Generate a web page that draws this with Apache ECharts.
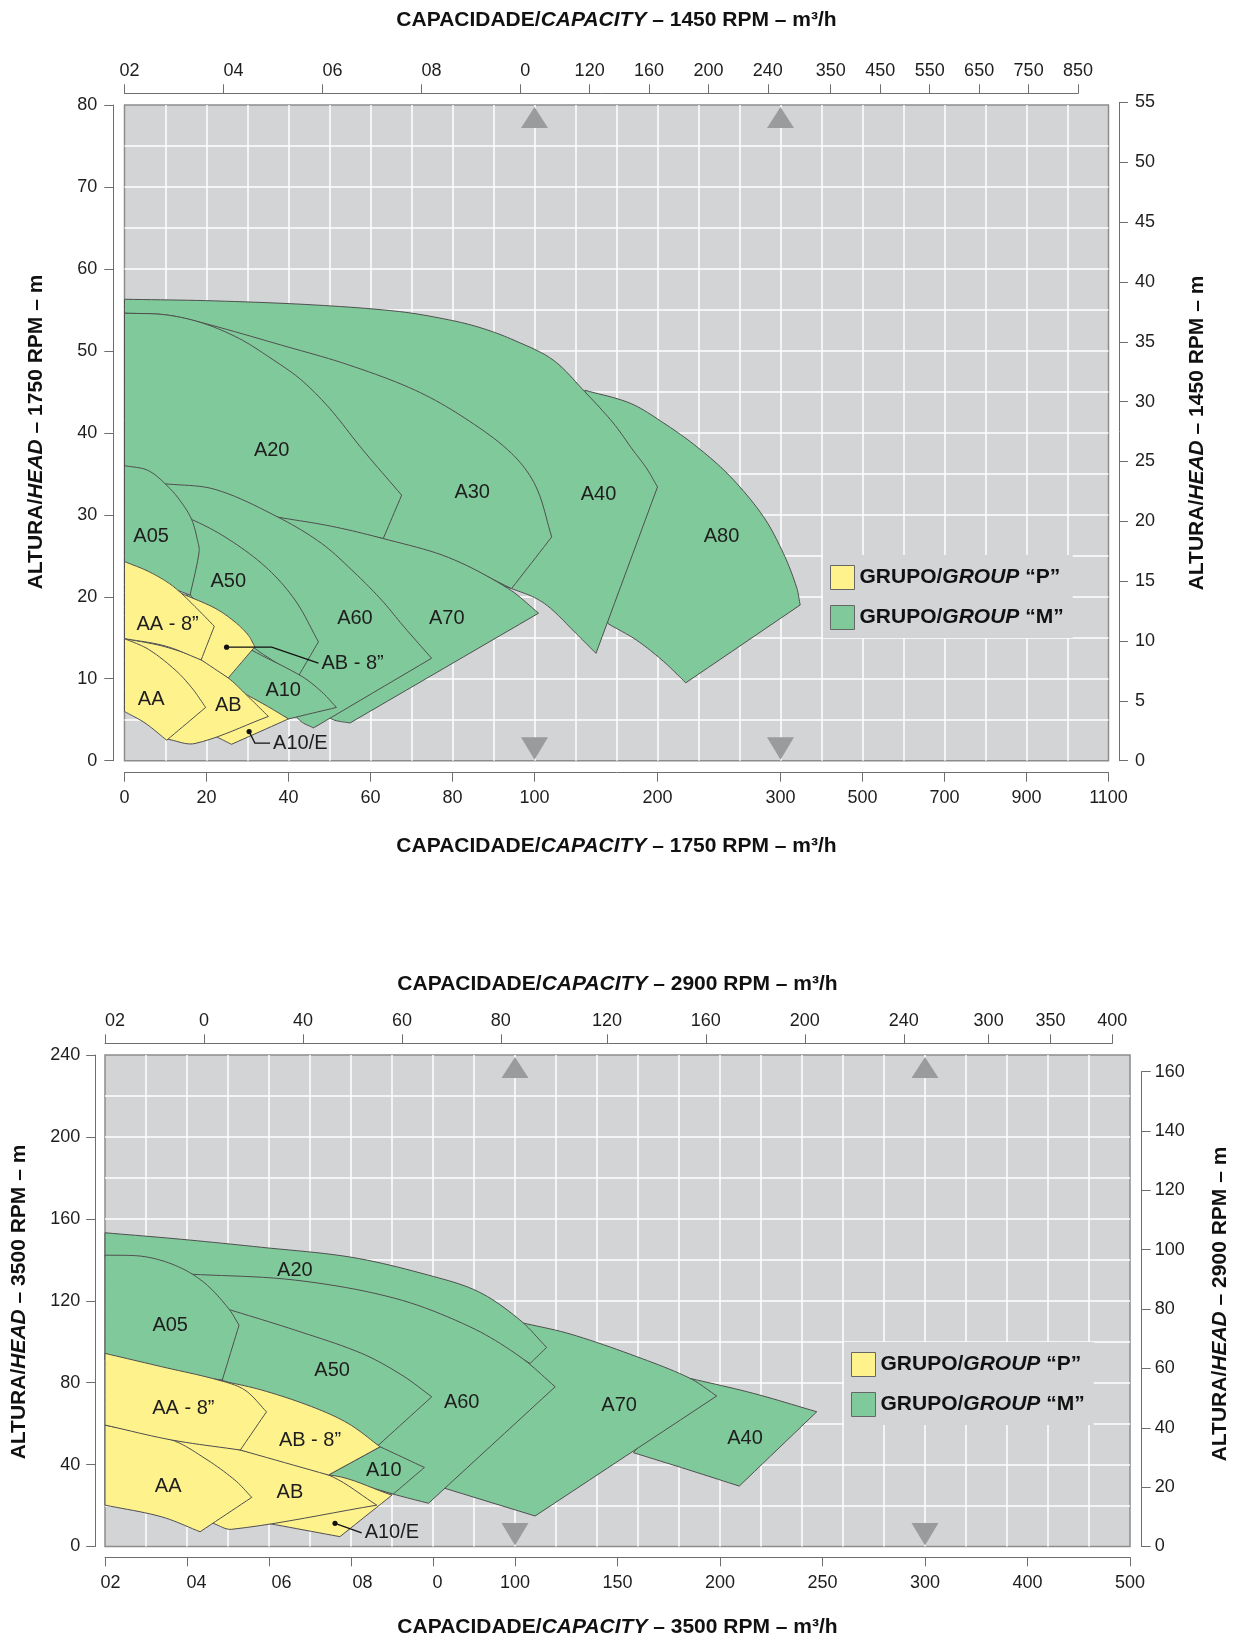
<!DOCTYPE html>
<html>
<head>
<meta charset="utf-8">
<script src="https://cdn.jsdelivr.net/npm/echarts@6/dist/echarts.min.js"></script>
<style>
  html, body { margin: 0; padding: 0; background: #fff; }
  #chart { width: 1239px; height: 1641px; }
</style>
</head>
<body>
<div id="chart"></div>
<script>
// ---------------- data: top chart, 1750 rpm (flow m3/h, head m) ----------------
const t_A80 = [[141,45.2],[178,43.6],[205,41.2],[232,38.3],[259,34.7],[286,29.8],[307,25.3],[339,21.2],[348,19.0],[223,9.5],[205,12.1],[183,14.7],[160,16.7],[140,25.0]];
const t_A40 = [[0,56.3],[22,56.1],[46.5,55.6],[67,54.8],[79,53.8],[87,52.8],[95,51.3],[115,48.9],[141,45.0],[164,41.2],[180,37.9],[191,35.7],[200,33.4],[150,13.1],[134,15.5],[113,18.6],[100,19.9],[94.4,21.0],[63,27.1],[30,45],[0,50]];
const t_A30 = [[0,54.6],[10,54.4],[19.2,53.4],[38.3,50.7],[54.6,48.3],[70.9,45.2],[83,41.8],[94.4,37.5],[101,33.5],[114,27.3],[94.4,21.0],[79,24.7],[63.1,27.1],[38.3,34.3],[0,46.5]];
const t_A20 = [[0,54.6],[10,54.4],[19,53.4],[28,51.5],[36,49.0],[43,46.5],[50,43.0],[58,38.0],[67.6,32.4],[63.1,27.1],[37.5,29.7],[9.5,33.8],[0,35.9]];
const t_A70 = [[37.5,29.7],[50.5,28.6],[63.1,27.1],[79,24.8],[93.6,21.0],[103.3,18.0],[55,4.6],[50.5,5.1],[43.2,7.8]];
const t_A60 = [[9.5,33.8],[22.1,33.1],[37.5,29.7],[48.1,26.5],[56.2,22.9],[62.7,19.6],[68.4,16.2],[74.9,12.5],[46.1,4.0],[42.8,4.9],[30.2,11.9],[15.6,20.0],[9.9,26.1]];
const t_A50 = [[15.6,29.6],[24.5,27.3],[34.3,23.7],[41.6,19.6],[47.3,14.5],[42.4,10.3],[31.8,13.7],[16.4,20.0],[13.9,24.1],[13.9,29.6]];
const t_A05 = [[0,36.0],[5.8,35.4],[10.7,33.4],[13.9,31.5],[16.4,29.4],[17.8,26.9],[18.2,25.5],[16.0,20.2],[9.9,21.4],[0,23.7]];
const t_A10 = [[30.2,13.9],[31.0,13.5],[43.2,10.3],[48.1,8.4],[51.7,6.5],[40.0,5.1],[27.8,8.2],[24.5,10.1]];
const t_A10E = [[22.1,7.4],[27.0,8.8],[34.3,6.8],[40.0,5.1],[26.1,2.0],[22.1,3.0]];
const t_AB = [[0,14.9],[9.9,13.9],[18.7,12.3],[25.3,10.1],[30.2,7.8],[35.1,5.4],[17.2,2.1],[10.7,2.6],[0,7.8]];
const t_AA = [[0,14.9],[5.8,13.6],[12.3,11.1],[16.4,8.9],[19.8,6.5],[10.3,2.5],[5.0,4.6],[0,6.0]];
const t_AB8 = [[13.9,20.4],[22.1,18.6],[27.0,16.9],[30.2,15.3],[31.8,13.9],[25.3,10.1],[18.7,12.3]];
const t_AA8 = [[0,24.3],[5.8,23.1],[10.7,21.7],[13.9,20.4],[18.0,18.4],[21.9,16.4],[18.7,12.3],[9.9,14.0],[0,14.9]];

const t_labels = [['A20',35.9,37.9],['A30',84.8,32.7],['A40',152,32.5],['A80',252,27.3],['A05',6.5,27.3],['A50',25.3,21.9],
                  ['A60',56.2,17.4],['A70',78.6,17.4],['AA - 8\u201d',10.5,16.6],['A10',38.7,8.6],['AA',6.5,7.5],['AB',25.3,6.7]];
const t_leadAB8 = [[24.9,13.85],[35.9,13.85],[47.3,11.9]];
const t_leadA10E = [[30.4,3.55],[31.8,2.15],[35.5,2.15]];

const ticks1750 = [0,20,40,60,80,100,200,300,500,700,900,1100];
const labels1750 = ['0','20','40','60','80','100','200','300','500','700','900','1100'];
const ticks1450 = [0,20,40,60,80,120,160,200,240,350,450,550,650,750,850];
const labels1450 = ['02','04','06','08','0','120','160','200','240','350','450','550','650','750','850'];

// ---------------- data: bottom chart, 3500 rpm ----------------
const b_A40 = [[185.4,82.1],[216.2,74.8],[247.2,65.8],[209.4,29.5],[183.8,37.7],[157.8,45.8]];
const b_A70 = [[103.2,109.3],[126.8,103.8],[159.4,92.7],[185.4,82.1],[198.4,73.5],[109.8,14.9],[82.9,28.4],[91.1,61.7]];
const b_A20 = [[0,153.2],[18.7,150.0],[38.2,146.1],[60.2,141.2],[78.9,132.5],[91.1,124.4],[102.4,110.6],[115.4,97.2],[107.4,89.4],[89.0,105.7],[46.3,128.5],[20.7,131.7],[0,141.5]];
const b_A60 = [[20.7,133.0],[46.3,130.1],[70.7,121.2],[89.0,107.3],[102.4,92.7],[119.6,78.0],[78.9,21.1],[70.3,25.6],[54.5,34.9],[32.5,47.1],[28.5,81.3],[22.0,126.8]];
const b_A50 = [[30.1,115.8],[46.3,105.7],[62.6,94.3],[72.4,83.7],[79.7,73.1],[66.7,49.5],[54.5,53.6],[32.5,78.0],[28.5,81.3]];
const b_A05 = [[0,142.3],[9.8,141.5],[17.9,136.6],[24.4,128.5],[30.1,116.3],[32.7,108.1],[28.6,81.3],[13.8,85.3],[0,91.0]];
const b_A10 = [[67.1,48.7],[77.9,38.6],[70.3,25.6],[54.5,34.9]];
const b_A10E = [[54.5,34.9],[70.0,25.1],[57.3,4.8],[39.8,11.3],[42.3,29.2]];
const b_AB = [[16.3,52.0],[33.0,47.1],[54.5,34.9],[66.3,20.2],[30.9,8.4],[26.4,11.3],[17.9,45.5]];
const b_AA = [[0,59.3],[16.3,52.0],[24.4,43.0],[31.7,32.4],[35.8,24.0],[23.2,7.2],[13.8,14.5],[0,20.2]];
const b_AB8 = [[27.6,81.3],[38.2,76.4],[50.4,68.3],[59.3,60.1],[67.1,48.7],[54.5,34.9],[33.0,47.1]];
const b_AA8 = [[0,94.3],[13.8,87.8],[27.6,81.3],[34.1,76.4],[39.4,65.8],[33.0,47.1],[16.3,52.0],[0,59.3]];

const b_labels = [['A20',46.3,134.7],['A05',15.9,108.1],['A50',55.4,85.8],['A60',87.0,70.2],['A70',150.8,69.1],['A40',212.2,52.8],
                  ['AA - 8\u201d',19.1,67.4],['AB - 8\u201d',50.0,52.0],['A10',68.0,37.3],['AA',15.4,29.2],['AB',45.1,26.3]];
const b_leadA10E = [[56.1,11.3],[62.6,6.7]];

const ticks3500 = [0,20,40,60,80,100,150,200,250,300,400,500];
const labels3500 = ['02','04','06','08','0','100','150','200','250','300','400','500'];
const ticks2900 = [0,20,40,60,80,120,160,200,240,300,350,400];
const labels2900 = ['02','0','40','60','80','120','160','200','240','300','350','400'];

const markFlows = [100, 300];

// ---------------- styling / layout ----------------
const FONT = '"Liberation Sans", Arial, Helvetica, sans-serif';
const GREEN = '#80c99a', YELLOW = '#fef28c', EDGE = '#4f4f4f';
const PLOT_BG = '#d3d4d6', AXIS = '#6e6e6e', TXT = '#1e1e1e', TRI = '#9a9b9d';
const nameP = 'GRUPO/GROUP \u201cP\u201d';
const nameM = 'GRUPO/GROUP \u201cM\u201d';
const PXU = 4.1; // px per axis unit, both charts

// piecewise flow scales
function ax1750(q) { return q <= 100 ? q : q <= 300 ? 100 + (q - 100) * 0.3 : 160 + (q - 300) * 0.1; }
function ax3500(q) { return q <= 100 ? q : q <= 300 ? 100 + (q - 100) * 0.5 : 200 + (q - 300) * 0.25; }
function ax1450(q) { return ax1750(q * 1750 / 1450); }
function ax2900(q) { return ax3500(q * 3500 / 2900); }

// label nudges in px (labels printed off their ticks in the original)
const nudge1450 = [5, 10, 10, 10, 5];
const nudge3500 = [5.5, 9.5, 12.4, 11.6, 4.6];
const nudge2900 = [10];

function nearestFmt(vals, texts) {
  return function (v) {
    let best = 0;
    for (let i = 1; i < vals.length; i++) if (Math.abs(vals[i] - v) < Math.abs(vals[best] - v)) best = i;
    return texts[best];
  };
}

function scaleAxis(gridIndex, pos, max, offset, ticks, texts, fn, nudge, margin) {
  const tv = ticks.map(fn);
  const lv = tv.map((v, i) => v + (nudge[i] || 0) / PXU);
  return {
    gridIndex: gridIndex, type: 'value', position: pos, min: 0, max: max, offset: offset,
    axisLine: {show: true, onZero: false, lineStyle: {color: AXIS, width: 1}},
    axisTick: {show: true, customValues: tv, length: 9, lineStyle: {color: AXIS, width: 1}},
    axisLabel: {show: true, customValues: lv, formatter: nearestFmt(lv, texts), margin: margin,
                fontSize: 18, color: TXT, fontFamily: FONT},
    splitLine: {show: false}
  };
}
function gridLines(gridIndex, max, interval) {
  return {
    gridIndex: gridIndex, type: 'value', min: 0, max: max, interval: interval,
    axisLine: {show: false, onZero: false}, axisTick: {show: false}, axisLabel: {show: false},
    splitLine: {show: true, showMinLine: false, showMaxLine: false, lineStyle: {color: '#ffffff', width: 1.5}}
  };
}
function yScale(gridIndex, pos, max, interval, offset, margin) {
  return {
    gridIndex: gridIndex, type: 'value', position: pos, min: 0, max: max, interval: interval, offset: offset,
    axisLine: {show: true, onZero: false, lineStyle: {color: AXIS, width: 1}},
    axisTick: {show: true, length: 9, lineStyle: {color: AXIS, width: 1}},
    axisLabel: {margin: margin, fontSize: 18, color: TXT, fontFamily: FONT},
    splitLine: {show: false}
  };
}
function hidden(gridIndex) {
  return {gridIndex: gridIndex, type: 'value', min: 0, max: 1, show: false,
          axisLine: {show: false, onZero: false}, axisTick: {show: false}, axisLabel: {show: false}, splitLine: {show: false}};
}

// smooth closed outline in pixel space; sharp turns stay corners
function smoothRing(pts) {
  const n = pts.length, out = [];
  const dir = (a, b) => { const dx = b[0] - a[0], dy = b[1] - a[1], l = Math.hypot(dx, dy) || 1; return [dx / l, dy / l]; };
  const dIn = [], dOut = [];
  for (let i = 0; i < n; i++) {
    const a = pts[(i - 1 + n) % n], p = pts[i], c = pts[(i + 1) % n];
    const u = dir(a, p), v = dir(p, c);
    const turn = Math.acos(Math.max(-1, Math.min(1, u[0] * v[0] + u[1] * v[1])));
    if (turn > 0.6) { dIn[i] = u; dOut[i] = v; }
    else { const m = dir(a, c); dIn[i] = m; dOut[i] = m; }
  }
  for (let i = 0; i < n; i++) {
    const j = (i + 1) % n, p0 = pts[i], p3 = pts[j];
    const L = Math.hypot(p3[0] - p0[0], p3[1] - p0[1]) / 3;
    const c1 = [p0[0] + dOut[i][0] * L, p0[1] + dOut[i][1] * L];
    const c2 = [p3[0] - dIn[j][0] * L, p3[1] - dIn[j][1] * L];
    const steps = 10;
    for (let k = 0; k < steps; k++) {
      const t = k / steps, s = 1 - t;
      out.push([
        s * s * s * p0[0] + 3 * s * s * t * c1[0] + 3 * s * t * t * c2[0] + t * t * t * p3[0],
        s * s * s * p0[1] + 3 * s * s * t * c1[1] + 3 * s * t * t * c2[1] + t * t * t * p3[1]
      ]);
    }
  }
  return out;
}

function polySeries(name, color, list, fn, xi, yi, z) {
  return {
    name: name, type: 'custom', coordinateSystem: 'cartesian2d', xAxisIndex: xi, yAxisIndex: yi, z: z,
    silent: true, itemStyle: {color: color, borderColor: '#666', borderWidth: 1},
    data: list.map((s, i) => [i]),
    renderItem: function (params, api) {
      const pts = list[params.dataIndex].map(p => api.coord([fn(p[0]), p[1]]));
      return {type: 'polygon', shape: {points: smoothRing(pts)},
              style: {fill: color, stroke: EDGE, lineWidth: 1, lineJoin: 'round'}};
    }
  };
}
function labelSeries(items, fn, xi, yi) {
  return {
    type: 'custom', coordinateSystem: 'cartesian2d', xAxisIndex: xi, yAxisIndex: yi, z: 6, silent: true,
    data: items.map((d, i) => [i]),
    renderItem: function (params, api) {
      const d = items[params.dataIndex];
      const p = api.coord([fn(d[1]), d[2]]);
      return {type: 'text', x: p[0], y: p[1],
              style: {text: d[0], fill: TXT, fontSize: 20, fontFamily: FONT, align: 'center', verticalAlign: 'middle'}};
    }
  };
}
function leaderSeries(leads, texts, fn, xi, yi) {
  return {
    type: 'custom', coordinateSystem: 'cartesian2d', xAxisIndex: xi, yAxisIndex: yi, z: 6, silent: true,
    data: leads.map((d, i) => [i]),
    renderItem: function (params, api) {
      const pts = leads[params.dataIndex].map(p => api.coord([fn(p[0]), p[1]]));
      const end = pts[pts.length - 1];
      return {type: 'group', children: [
        {type: 'polyline', shape: {points: pts}, style: {stroke: '#111', lineWidth: 1.3, fill: null}},
        {type: 'circle', shape: {cx: pts[0][0], cy: pts[0][1], r: 2.6}, style: {fill: '#111'}},
        {type: 'text', x: end[0] + 3, y: end[1],
         style: {text: texts[params.dataIndex], fill: TXT, fontSize: 20, fontFamily: FONT, align: 'left', verticalAlign: 'middle'}}
      ]};
    }
  };
}
function triangleSeries(fn, xi, yi) {
  return {
    type: 'custom', coordinateSystem: 'cartesian2d', xAxisIndex: xi, yAxisIndex: yi, z: 4, silent: true,
    data: markFlows.map((f, i) => [i]),
    renderItem: function (params, api) {
      const x = api.coord([fn(markFlows[params.dataIndex]), 0])[0];
      const cs = params.coordSys;
      const t = cs.y, b = cs.y + cs.height;
      return {type: 'group', children: [
        {type: 'polygon', shape: {points: [[x - 13.5, t + 23], [x + 13.5, t + 23], [x, t + 2]]}, style: {fill: TRI}},
        {type: 'polygon', shape: {points: [[x - 13.5, b - 23.5], [x + 13.5, b - 23.5], [x, b - 1]]}, style: {fill: TRI}}
      ]};
    }
  };
}

const rich = {
  b: {fontSize: 21, fontWeight: 'bold', fontFamily: FONT, fill: '#111', color: '#111'},
  bi: {fontSize: 21, fontWeight: 'bold', fontStyle: 'italic', fontFamily: FONT, fill: '#111', color: '#111'}
};
function title(x, y, text, rot) {
  return {type: 'text', x: x, y: y, rotation: rot ? Math.PI / 2 : 0, silent: true,
          style: {text: text, rich: rich, align: 'center', verticalAlign: 'middle', fontSize: 21, fontWeight: 'bold', fontFamily: FONT}};
}
function legendAt(left, top) {
  return {
    data: [nameP, nameM], orient: 'vertical', left: left, top: top, icon: 'rect',
    itemWidth: 24, itemHeight: 24, itemGap: 15, padding: [10, 9, 8, 7],
    backgroundColor: PLOT_BG, selectedMode: false,
    itemStyle: {borderColor: '#666', borderWidth: 1},
    formatter: n => '{b|GRUPO/}{bi|GROUP}{b| ' + n.slice(12) + '}',
    textStyle: {fontSize: 21, fontFamily: FONT, color: '#111', rich: {
      b: {fontSize: 21, fontWeight: 'bold', fontFamily: FONT, color: '#111'},
      bi: {fontSize: 21, fontWeight: 'bold', fontStyle: 'italic', fontFamily: FONT, color: '#111'}}}
  };
}

const topLast = ax1450(ticks1450[ticks1450.length - 1]);
const botLast = ax2900(ticks2900[ticks2900.length - 1]);

const gridBase = {outerBoundsMode: 'none', containLabel: false};
const option = {
  animation: false,
  backgroundColor: '#ffffff',
  textStyle: {fontFamily: FONT},
  grid: [
    Object.assign({left: 124.5, top: 105, width: 984, height: 655.7, show: true, backgroundColor: PLOT_BG, borderColor: '#8c8c8c', borderWidth: 1.5}, gridBase),
    Object.assign({left: 124.5, top: 105, width: topLast * PXU, height: 655.7}, gridBase),
    Object.assign({left: 124.5, top: 102.5, width: 984, height: 658.2}, gridBase),
    Object.assign({left: 105, top: 1055, width: 1025, height: 491.5, show: true, backgroundColor: PLOT_BG, borderColor: '#8c8c8c', borderWidth: 1.5}, gridBase),
    Object.assign({left: 105, top: 1055, width: botLast * PXU, height: 491.5}, gridBase),
    Object.assign({left: 105, top: 1071.6, width: 1025, height: 474.9}, gridBase)
  ],
  xAxis: [
    scaleAxis(0, 'bottom', 240, 12, ticks1750, labels1750, ax1750, [], 16),
    gridLines(0, 240, 10),
    scaleAxis(1, 'top', topLast, 11.7, ticks1450, labels1450, ax1450, nudge1450, 13),
    hidden(2),
    scaleAxis(3, 'bottom', 250, 10.8, ticks3500, labels3500, ax3500, nudge3500, 17),
    gridLines(3, 250, 10),
    scaleAxis(4, 'top', botLast, 11.7, ticks2900, labels2900, ax2900, nudge2900, 13),
    hidden(5)
  ],
  yAxis: [
    yScale(0, 'left', 80, 10, 11.2, 16),
    gridLines(0, 80, 5),
    hidden(1),
    yScale(2, 'right', 55, 5, 10.5, 16),
    yScale(3, 'left', 240, 40, 9.8, 15),
    gridLines(3, 240, 20),
    hidden(4),
    yScale(5, 'right', 160, 20, 11.7, 13)
  ],
  legend: [legendAt(823, 555), legendAt(844, 1342)],
  graphic: [
    title(616.5, 20, '{b|CAPACIDADE/}{bi|CAPACITY}{b| \u2013 1450 RPM \u2013 m\u00b3/h}'),
    title(616.5, 846, '{b|CAPACIDADE/}{bi|CAPACITY}{b| \u2013 1750 RPM \u2013 m\u00b3/h}'),
    title(36.6, 432, '{b|ALTURA/}{bi|HEAD}{b| \u2013 1750 RPM \u2013 m}', true),
    title(1197.7, 433, '{b|ALTURA/}{bi|HEAD}{b| \u2013 1450 RPM \u2013 m}', true),
    title(617.5, 984.7, '{b|CAPACIDADE/}{bi|CAPACITY}{b| \u2013 2900 RPM \u2013 m\u00b3/h}'),
    title(617.5, 1627, '{b|CAPACIDADE/}{bi|CAPACITY}{b| \u2013 3500 RPM \u2013 m\u00b3/h}'),
    title(18.8, 1302, '{b|ALTURA/}{bi|HEAD}{b| \u2013 3500 RPM \u2013 m}', true),
    title(1220, 1304, '{b|ALTURA/}{bi|HEAD}{b| \u2013 2900 RPM \u2013 m}', true)
  ],
  series: [
    polySeries(nameM, GREEN, [t_A80, t_A40, t_A30, t_A20, t_A70, t_A60, t_A50, t_A05, t_A10], ax1750, 0, 0, 2),
    polySeries(nameP, YELLOW, [t_A10E, t_AB, t_AA, t_AB8, t_AA8], ax1750, 0, 0, 3),
    triangleSeries(ax1750, 0, 0),
    labelSeries(t_labels, ax1750, 0, 0),
    leaderSeries([t_leadAB8, t_leadA10E], ['AB - 8\u201d', 'A10/E'], ax1750, 0, 0),

    polySeries(nameM, GREEN, [b_A40, b_A70, b_A20, b_A60, b_A50, b_A05, b_A10], ax3500, 4, 4, 2),
    polySeries(nameP, YELLOW, [b_A10E, b_AB, b_AA, b_AB8, b_AA8], ax3500, 4, 4, 3),
    triangleSeries(ax3500, 4, 4),
    labelSeries(b_labels, ax3500, 4, 4),
    leaderSeries([b_leadA10E], ['A10/E'], ax3500, 4, 4)
  ]
};

const chart = echarts.init(document.getElementById('chart'));
chart.setOption(option);
</script>
</body>
</html>
